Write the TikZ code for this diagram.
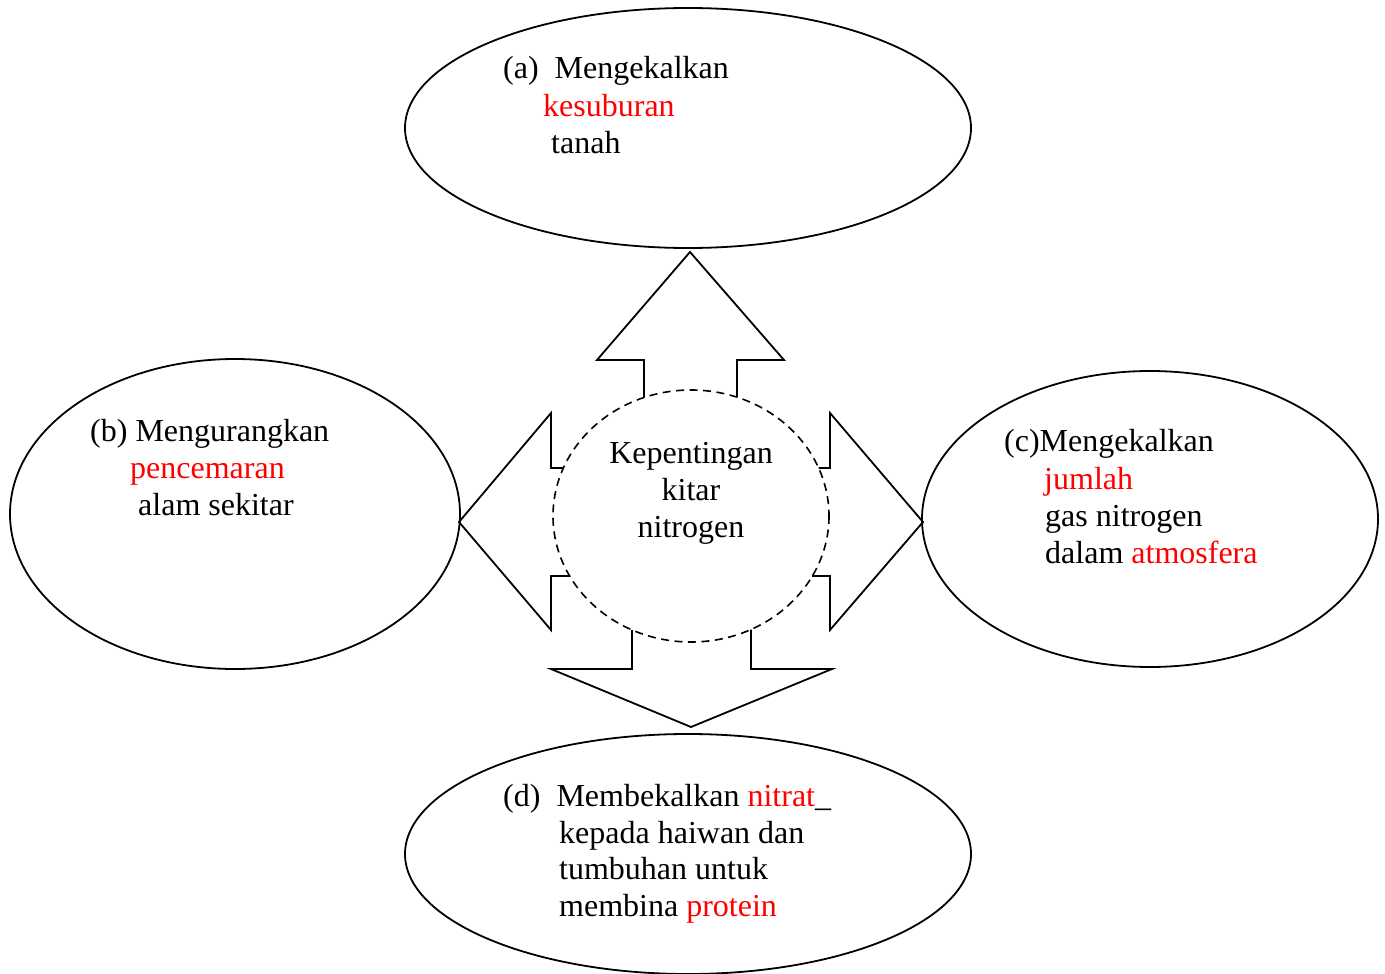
\documentclass[tikz,border=0pt]{standalone}
\usepackage{fontspec}
\setmainfont{Liberation Serif}
\begin{document}
\begin{tikzpicture}[x=1pt,y=-1pt,
  outl/.style={line width=1.8pt,line join=miter},
  txt/.style={anchor=base west,inner sep=0pt,font=\fontsize{32}{37}\selectfont},
  ctxt/.style={anchor=base,inner sep=0pt,font=\fontsize{32}{37}\selectfont}]
\useasboundingbox (0,0) rectangle (1385,974);
% ellipses
\draw[outl] (688,128) ellipse [x radius=283, y radius=120];
\draw[outl] (235,514) ellipse [x radius=225, y radius=155];
\draw[outl] (1150,519) ellipse [x radius=228, y radius=148];
\draw[outl] (688,854) ellipse [x radius=283, y radius=120];
% block arrows
\draw[outl] (644,397.5) -- (644,360) -- (597,360) -- (690,252) -- (784,360) -- (737,360) -- (737,397);
\draw[outl] (563,468) -- (551,468) -- (551,413) -- (459,522) -- (551,630) -- (551,576) -- (570,576);
\draw[outl] (818.6,468) -- (830,468) -- (830,413) -- (923,522) -- (830,630) -- (830,576) -- (812,576);
\draw[outl] (632,630) -- (632,669) -- (551,669) -- (691,727) -- (832,669) -- (751,669) -- (751,629.5);
% dashed circle
\draw[line width=1.6pt,dash pattern=on 8pt off 5.5pt] (691,516) ellipse [x radius=138, y radius=126];
% texts
\node[ctxt] (c1) at (691,463) {Kepentingan};
\node[ctxt] (c2) at (691,500) {kitar};
\node[ctxt] (c3) at (691,537) {nitrogen};
\node[txt] (a1) at (503,79) {(a)\ \ Mengekalkan};
\node[txt,text=red] (a2) at (543,116) {kesuburan};
\node[txt] (a3) at (551,153) {tanah};
\node[txt] (b1) at (90,441) {(b) Mengurangkan};
\node[txt,text=red] (b2) at (130,478) {pencemaran};
\node[txt] (b3) at (138,515) {alam sekitar};
\node[txt] (k1) at (1004,451) {(c)Mengekalkan};
\node[txt,text=red] (k2) at (1044,489) {jumlah};
\node[txt] (k3) at (1045,526) {gas nitrogen};
\node[txt] (k4) at (1045,563) {dalam \textcolor{red}{atmosfera}};
\node[txt] (d1) at (503,806) {(d)\ \ Membekalkan \textcolor{red}{nitrat}\_};
\node[txt] (d2) at (559,843) {kepada haiwan dan};
\node[txt] (d3) at (559,879) {tumbuhan untuk};
\node[txt] (d4) at (559,916) {membina \textcolor{red}{protein}};
\end{tikzpicture}
\end{document}
